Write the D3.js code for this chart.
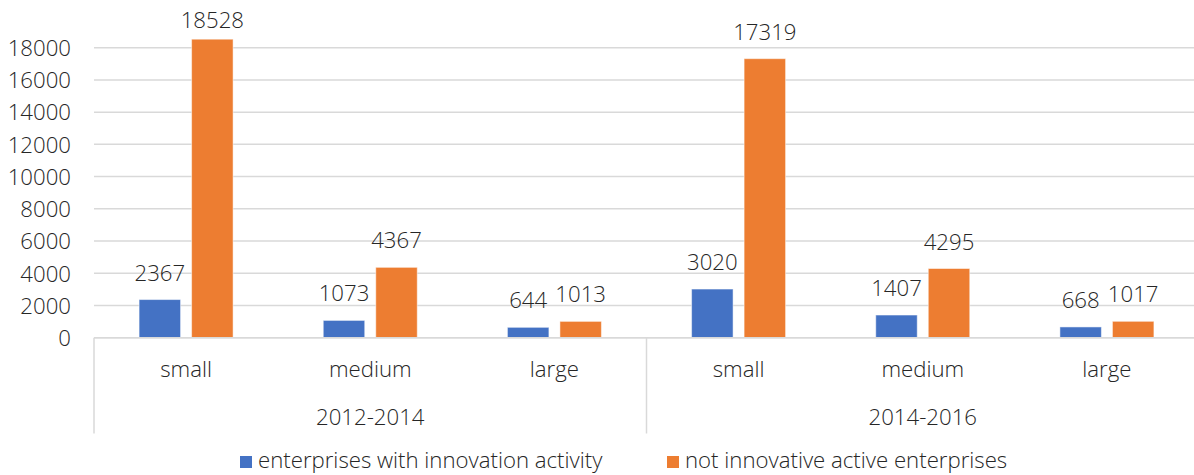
<!DOCTYPE html>
<html>
<head>
<meta charset="utf-8">
<script src="https://cdn.jsdelivr.net/npm/d3@7"></script>
<style>
  body { margin: 0; background: #fff; }
  svg text { font-family: "Open Sans", "Noto Sans", sans-serif; font-weight: 300; fill: #262626; }
</style>
</head>
<body>
<svg id="chart"></svg>
<script>
// periods and firm sizes along the x axis
const periods = ["2012-2014", "2014-2016"];
const sizes = ["small", "medium", "large"];
const seriesNames = ["enterprises with innovation activity", "not innovative active enterprises"];
const innovative = [2367, 1073, 644, 3020, 1407, 668];
const notInnovative = [18528, 4367, 1013, 17319, 4295, 1017];
const yTicks = [0, 2000, 4000, 6000, 8000, 10000, 12000, 14000, 16000, 18000];

const colors = ["#4472C4", "#ED7D31"];

const width = 1194, height = 475;
const svg = d3.select("#chart").attr("width", width).attr("height", height);

const plotLeft = 94, plotRight = 1199, plotTop = 47.7, plotBottom = 337.7;
const fontSize = "22.2px";

// one row per bar group
const rows = [];
periods.forEach((p, pi) => {
    sizes.forEach((s, si) => {
        const i = pi * sizes.length + si;
        rows.push({ key: p + "|" + s, period: p, size: s, values: [innovative[i], notInnovative[i]] });
    });
});

const x0 = d3.scaleBand()
    .domain(rows.map(d => d.key))
    .range([plotLeft, plotRight]);

const cw = x0.bandwidth();
const x1 = d3.scaleBand()
    .domain([0, 1])
    .range([cw / 2 - 47, cw / 2 + 47])
    .paddingInner(0.21);

const y = d3.scaleLinear()
    .domain([0, 18000])
    .range([plotBottom, plotTop]);

// gridlines
svg.append("g")
    .selectAll("line")
    .data(yTicks)
    .enter().append("line")
    .attr("x1", plotLeft)
    .attr("x2", plotRight)
    .attr("y1", d => y(d))
    .attr("y2", d => y(d))
    .attr("stroke", "#d9d9d9")
    .attr("stroke-width", 1.5);

// y axis labels
const yAxis = d3.axisLeft(y).tickValues(yTicks).tickSize(0).tickPadding(0).tickFormat(d3.format("d"));
const yg = svg.append("g")
    .attr("transform", `translate(71,0)`)
    .call(yAxis);
yg.select(".domain").remove();
yg.selectAll("text")
    .attr("font-size", fontSize)
    .attr("font-family", null)
    .attr("fill", null)
    .attr("dy", "0.35em");

// bars
const groups = svg.append("g")
    .selectAll("g")
    .data(rows)
    .enter().append("g")
    .attr("transform", d => `translate(${x0(d.key)},0)`);

groups.selectAll("rect")
    .data(d => d.values.map((v, i) => ({ v, i })))
    .enter().append("rect")
    .attr("x", d => x1(d.i))
    .attr("y", d => y(d.v))
    .attr("width", x1.bandwidth())
    .attr("height", d => y(0) - y(d.v))
    .attr("fill", d => colors[d.i])
    .attr("stroke", "#fff")
    .attr("stroke-opacity", 0.5)
    .attr("stroke-width", 1);

// data labels
groups.selectAll("text.val")
    .data(d => d.values.map((v, i) => ({ v, i })))
    .enter().append("text")
    .attr("class", "val")
    .attr("x", d => x1(d.i) + x1.bandwidth() / 2)
    .attr("y", d => Math.max(y(d.v) - 19, 28))
    .attr("text-anchor", "middle")
    .attr("font-size", fontSize)
    .text(d => d.v);

// x axis baseline
svg.append("line")
    .attr("x1", plotLeft)
    .attr("x2", plotRight)
    .attr("y1", plotBottom)
    .attr("y2", plotBottom)
    .attr("stroke", "#d9d9d9")
    .attr("stroke-width", 1.5);

// category labels
svg.append("g")
    .selectAll("text")
    .data(rows)
    .enter().append("text")
    .attr("x", d => x0(d.key) + cw / 2)
    .attr("y", 376.5)
    .attr("text-anchor", "middle")
    .attr("font-size", fontSize)
    .text(d => d.size);

// period separators and labels
const periodWidth = cw * sizes.length;
periods.forEach((p, pi) => {
    const px = plotLeft + pi * periodWidth;
    svg.append("line")
        .attr("x1", px)
        .attr("x2", px)
        .attr("y1", plotBottom)
        .attr("y2", 433.5)
        .attr("stroke", "#d9d9d9")
        .attr("stroke-width", 1.5);
    svg.append("text")
        .attr("x", px + periodWidth / 2)
        .attr("y", 425)
        .attr("text-anchor", "middle")
        .attr("font-size", fontSize)
        .text(p);
});

// legend
const legendX = [240, 667];
seriesNames.forEach((name, i) => {
    svg.append("rect")
        .attr("x", legendX[i])
        .attr("y", 456)
        .attr("width", 12)
        .attr("height", 12)
        .attr("fill", colors[i]);
    svg.append("text")
        .attr("x", legendX[i] + 18)
        .attr("y", 468)
        .attr("font-size", fontSize)
        .text(name);
});
</script>
</body>
</html>
